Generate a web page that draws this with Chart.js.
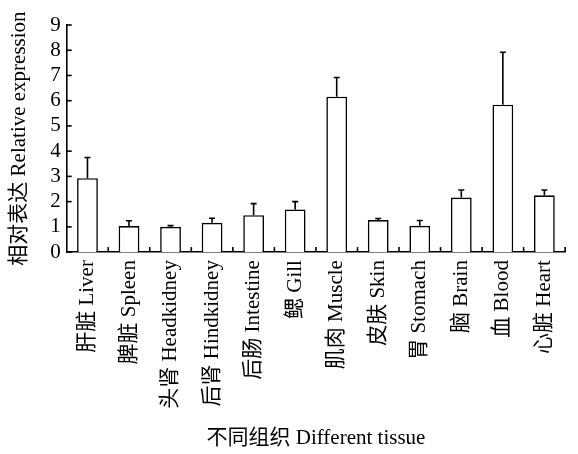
<!DOCTYPE html>
<html>
<head>
<meta charset="utf-8">
<script src="https://cdn.jsdelivr.net/npm/chart.js@4.4.0/dist/chart.umd.min.js"></script>
<style>
  html, body { margin: 0; padding: 0; background: #fff; }
  #wrap { width: 578px; height: 454px; }
</style>
</head>
<body>
<div id="wrap"><canvas id="tissueChart" width="578" height="454"></canvas></div>
<script>
const tissues = ['肝脏 Liver', '脾脏 Spleen', '头肾 Headkidney', '后肾 Hindkidney', '后肠 Intestine', '鳃 Gill',
  '肌肉 Muscle', '皮肤 Skin', '胃 Stomach', '脑 Brain', '血 Blood', '心脏 Heart'];
const expression = [2.93, 1.03, 1.0, 1.16, 1.46, 1.69, 6.16, 1.27, 1.04, 2.16, 5.84, 2.25];
const errors = [0.82, 0.21, 0.05, 0.18, 0.46, 0.31, 0.76, 0.06, 0.21, 0.30, 2.08, 0.21];
const yTicks = [0, 1, 2, 3, 4, 5, 6, 7, 8, 9];

const fontFamily = '"Liberation Serif", "Times New Roman", "Noto Sans CJK SC", serif';

// error bars (upper only) + inward tick marks
const decor = {
  id: 'decor',
  afterDatasetsDraw(chart) {
    const ctx = chart.ctx;
    const x = chart.scales.x;
    const y = chart.scales.y;
    const area = chart.chartArea;
    ctx.save();
    ctx.strokeStyle = '#000';
    ctx.lineWidth = 1.6;

    chart.getDatasetMeta(0).data.forEach((bar, i) => {
      const top = y.getPixelForValue(expression[i] + errors[i]);
      ctx.beginPath();
      ctx.moveTo(bar.x, bar.y);
      ctx.lineTo(bar.x, top);
      ctx.moveTo(bar.x - 3, top);
      ctx.lineTo(bar.x + 3, top);
      ctx.stroke();
    });

    // y ticks pointing inward
    yTicks.forEach(v => {
      const py = y.getPixelForValue(v);
      ctx.beginPath();
      ctx.moveTo(area.left, py);
      ctx.lineTo(area.left + 5, py);
      ctx.stroke();
    });

    // x ticks between categories, pointing up
    for (let i = 1; i <= tissues.length; i++) {
      const px = i < tissues.length
        ? (x.getPixelForValue(i - 1) + x.getPixelForValue(i)) / 2
        : area.right;
      ctx.beginPath();
      ctx.moveTo(px, area.bottom);
      ctx.lineTo(px, area.bottom - 5);
      ctx.stroke();
    }
    ctx.restore();
  }
};

const ctx = document.getElementById('tissueChart').getContext('2d');

new Chart(ctx, {
  type: 'bar',
  data: {
    labels: tissues,
    datasets: [{
      label: 'Relative expression',
      data: expression,
      backgroundColor: '#fff',
      borderColor: '#000',
      borderWidth: 1.6,
      barPercentage: 0.5,
      categoryPercentage: 1.0
    }]
  },
  options: {
    responsive: false,
    animation: false,
    events: [],
    layout: { padding: { top: 25, right: 10, left: 7, bottom: 3 } },
    plugins: {
      legend: { display: false },
      tooltip: { enabled: false }
    },
    scales: {
      x: {
        grid: { display: false, drawTicks: false },
        border: { display: true, color: '#000', width: 1.6 },
        ticks: {
          color: '#000',
          font: { family: fontFamily, size: 21 },
          minRotation: 90,
          maxRotation: 90,
          autoSkip: false,
          padding: 8
        },
        title: {
          display: true,
          text: '不同组织 Different tissue',
          color: '#000',
          font: { family: fontFamily, size: 21 },
          padding: { top: 9, bottom: 0 }
        }
      },
      y: {
        min: 0,
        max: 9,
        grid: { display: false, drawTicks: false },
        border: { display: true, color: '#000', width: 1.6 },
        afterBuildTicks: axis => { axis.ticks = yTicks.map(v => ({ value: v })); },
        ticks: {
          color: '#000',
          font: { family: fontFamily, size: 21 },
          autoSkip: false,
          padding: 6
        },
        title: {
          display: true,
          text: '相对表达 Relative expression',
          color: '#000',
          font: { family: fontFamily, size: 21 },
          padding: { top: 0, bottom: 12 }
        }
      }
    }
  },
  plugins: [decor]
});
</script>
</body>
</html>
